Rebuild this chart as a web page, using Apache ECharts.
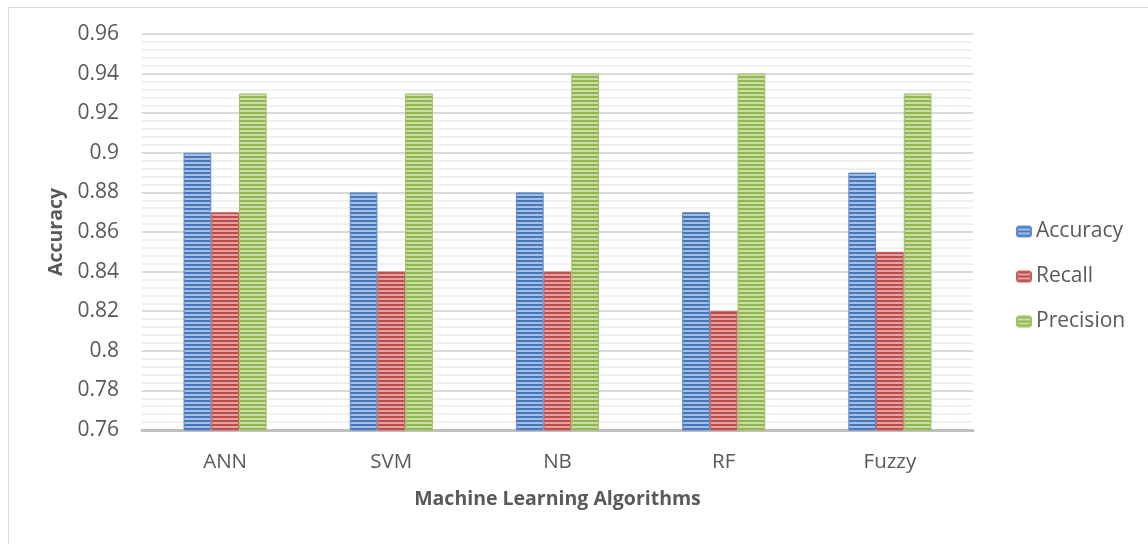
<!DOCTYPE html>
<html>
<head>
<meta charset="utf-8">
<script src="https://cdn.jsdelivr.net/npm/echarts@6/dist/echarts.min.js"></script>
<style>
  html, body { margin: 0; padding: 0; background: #ffffff; }
  #chart { width: 1148px; height: 544px; }
</style>
</head>
<body>
<div id="chart"></div>
<script>
// Algorithm names along the x axis
const categories = ['ANN', 'SVM', 'NB', 'RF', 'Fuzzy'];
// Scores per algorithm
const accuracy = [0.90, 0.88, 0.88, 0.87, 0.89];
const recall = [0.87, 0.84, 0.84, 0.82, 0.85];
const precision = [0.93, 0.93, 0.94, 0.94, 0.93];
const seriesNames = ['Accuracy', 'Recall', 'Precision'];

// Horizontal striped fill for each bar colour
function stripes(dark, light) {
  const c = document.createElement('canvas');
  c.width = 8; c.height = 4;
  const ctx = c.getContext('2d');
  ctx.fillStyle = light; ctx.fillRect(0, 0, 8, 4);
  ctx.fillStyle = dark; ctx.fillRect(0, 0, 8, 2);
  return { image: c, repeat: 'repeat' };
}
const fills = [
  stripes('#4677bb', '#a3bfe4'),
  stripes('#bf4a47', '#e2a3a2'),
  stripes('#90b650', '#c9dda6')
];
const borders = ['#5b8acb', '#c65e5b', '#9fc163'];

const font = '"Open Sans", "Liberation Sans", sans-serif';
const chart = echarts.init(document.getElementById('chart'), null, { renderer: 'canvas' });

const values = [accuracy, recall, precision];
chart.setOption({
  animation: false,
  textStyle: { fontFamily: font },
  graphic: [{
    type: 'rect', left: 6, top: 5,
    shape: { width: 1140, height: 538 },
    style: { fill: 'none', stroke: '#d9d9d9', lineWidth: 1 },
    silent: true
  }],
  grid: { left: 142, right: 175, top: 34, bottom: 114 },
  legend: {
    orient: 'vertical', left: 1016, top: 221, padding: 0,
    itemWidth: 14, itemHeight: 10, itemGap: 24,
    textStyle: { fontSize: 21, color: '#595959', fontFamily: font },
    data: seriesNames
  },
  xAxis: {
    type: 'category', data: categories,
    name: 'Machine Learning Algorithms', nameLocation: 'middle', nameGap: 59,
    nameTextStyle: { fontSize: 19.5, fontWeight: 'bold', color: '#595959', fontFamily: font },
    axisLine: { lineStyle: { color: '#bfbfbf', width: 3 } },
    axisTick: { show: false },
    axisLabel: { fontSize: 20.5, color: '#595959', margin: 22 }
  },
  yAxis: {
    type: 'value', min: 0.76, max: 0.96, interval: 0.02,
    name: 'Accuracy', nameLocation: 'middle', nameGap: 76, nameRotate: 90,
    nameTextStyle: { fontSize: 19.5, fontWeight: 'bold', color: '#595959', fontFamily: font },
    axisLine: { show: false }, axisTick: { show: false },
    axisLabel: { fontSize: 21, color: '#595959', margin: 23,
      formatter: v => String(parseFloat(v.toFixed(2))) },
    splitLine: { lineStyle: { color: '#d9d9d9', width: 2 } },
    minorTick: { show: false, splitNumber: 5 },
    minorSplitLine: { show: true, lineStyle: { color: '#f0f0f0', width: 2 } }
  },
  series: seriesNames.map((name, i) => ({
    name, type: 'bar', data: values[i],
    barGap: '0%', barCategoryGap: '50%',
    itemStyle: { color: fills[i], borderColor: borders[i], borderWidth: 1 }
  }))
});
</script>
</body>
</html>
